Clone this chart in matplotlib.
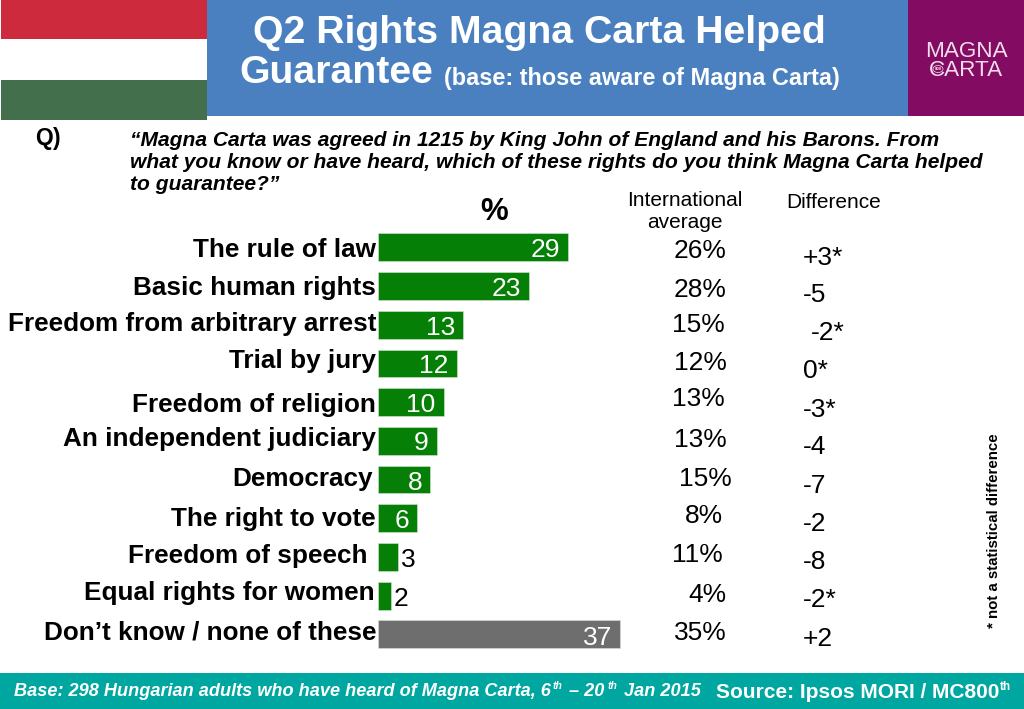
import matplotlib
matplotlib.use("Agg")
import matplotlib.pyplot as plt
from matplotlib.patches import Rectangle, Ellipse

plt.rcParams["font.family"] = ["Liberation Sans", "DejaVu Sans"]

W, H = 1024, 709

categories = [
    "The rule of law", "Basic human rights", "Freedom from arbitrary arrest",
    "Trial by jury", "Freedom of religion", "An independent judiciary",
    "Democracy", "The right to vote", "Freedom of speech",
    "Equal rights for women", "Don’t know / none of these",
]
values = [29, 23, 13, 12, 10, 9, 8, 6, 3, 2, 37]
intl_avg = ["26%", "28%", "15%", "12%", "13%", "13%", "15%", "8%", "11%", "4%", "35%"]
difference = ["+3*", "-5", "-2*", "0*", "-3*", "-4", "-7", "-2", "-8", "-2*", "+2"]

# text placement in pixels, the slide has them hand placed
label_right = [376, 376, 376, 376, 376, 376, 373, 376, 367, 375, 376]
label_y = [248, 286, 322, 359, 403, 437, 477, 517, 554, 591, 631]
value_y = [248, 287, 326, 364, 403, 441, 481, 519, 558, 597, 636]
intl_x = [700, 700, 698, 700, 698, 700, 705, 704, 697, 707, 700]
intl_y = [249, 288, 323, 361, 397, 438, 477, 514, 553, 593, 631]
diff_x = [803, 803, 811, 803, 803, 803, 803, 803, 803, 803, 803]
diff_y = [256, 293, 331, 369, 408, 445, 484, 522, 560, 598, 637]

fig = plt.figure(figsize=(W / 100, H / 100), dpi=100, facecolor="white")

# overlay in pixel coordinates for the banners and all slide text
bg = fig.add_axes([0, 0, 1, 1], zorder=2)
bg.set_xlim(0, W)
bg.set_ylim(H, 0)
bg.axis("off")


def box(x0, y0, x1, y1, color):
    bg.add_patch(Rectangle((x0, y0), x1 - x0, y1 - y0, color=color, lw=0))


def txt(x, y, s, size, ha="left", va="center", color="black", **kw):
    # va=center sits a bit high for these fonts
    return bg.text(x, y + 2, s, fontsize=size, ha=ha, va=va, color=color, **kw)


# header
box(207, 0, 908, 116, "#4a80c0")
box(908, 0, 1024, 116, "#830b62")
box(1, 0, 207, 39, "#cd2a3e")
box(1, 39, 207, 80, "#ffffff")
box(1, 80, 207, 120, "#436f4d")
txt(253, 31, "Q2 Rights Magna Carta Helped", 28.3, color="white", fontweight="bold")
txt(239, 71, "Guarantee", 28.3, color="white", fontweight="bold")
txt(444, 77, "(base: those aware of Magna Carta)", 16.9, color="white", fontweight="bold")
txt(966, 59, "MAGNA\nCARTA", 16.2, ha="center", color="#f3dcec", linespacing=0.88)
bg.add_patch(Ellipse((938, 69), 10, 7, fc="#830b62", ec="#f3dcec", lw=0.5, zorder=5))
txt(938, 67, "800", 3.2, ha="center", color="#f3dcec", fontweight="bold", zorder=6)

# question
txt(35, 137, "Q", 16.5, fontweight="bold")
txt(53, 137, ")", 16.5, fontweight="bold")
question = [
    (139, "“Magna Carta was agreed in 1215 by King John of England and his Barons. From"),
    (161, "what you know or have heard, which of these rights do you think Magna Carta helped"),
    (183, "to guarantee?”"),
]
for y, line in question:
    txt(130, y, line, 15.1, fontweight="bold", fontstyle="italic")

txt(494, 210, "%", 22.5, ha="center", fontweight="bold")
txt(685, 199, "International", 15, ha="center")
txt(685, 221, "average", 15, ha="center")
txt(834, 200, "Difference", 15, ha="center")

# bars, scale: 6.55 px per percentage point
bar_top = 228.0
bar_step = 38.7
ax = fig.add_axes([378 / W, 1 - (bar_top + 11 * bar_step) / H, 320 / W, 11 * bar_step / H], zorder=3)
ax.set_xlim(0, 320 / 6.55)
ax.set_ylim(10.5, -0.5)
ax.axis("off")
ax.patch.set_alpha(0)
colors = ["#067f06"] * 10 + ["#6e6e6e"]
ax.barh(range(len(values)), values, height=0.72, color=colors, edgecolor="#d5e5d5", linewidth=0.4)

for i, v in enumerate(values):
    if v > 5:
        ax.text(v - 8 / 6.55, i + (value_y[i] + 2 - (bar_top + (i + 0.5) * bar_step)) / bar_step,
                str(v), fontsize=19, ha="right", va="center", color="white")
    else:
        txt(378 + v * 6.55 + 3, value_y[i], str(v), 19, color="black")
    txt(label_right[i], label_y[i], categories[i], 18.8, ha="right", fontweight="bold")
    txt(intl_x[i], intl_y[i], intl_avg[i], 19, ha="center")
    txt(diff_x[i], diff_y[i], difference[i], 19)

txt(994, 529, "* not a statistical difference", 10.8, ha="center", rotation=90, fontweight="bold")

# footer
box(0, 673, 1024, 709, "#00a6a0")
ft = dict(color="white", fontweight="bold", fontstyle="italic")
txt(14, 690, "Base: 298 Hungarian adults who have heard of Magna Carta, 6", 13.1, **ft)
txt(553, 684, "th", 7.5, **ft)
txt(569, 690, "– 20", 13.1, **ft)
txt(608, 684, "th", 7.5, **ft)
txt(624, 690, "Jan 2015", 13.1, **ft)
txt(716, 690, "Source: Ipsos MORI / MC800", 15, color="white", fontweight="bold")
txt(1000, 685, "th", 8.5, color="white", fontweight="bold")

fig.savefig("out.png", dpi=100, facecolor="white")
